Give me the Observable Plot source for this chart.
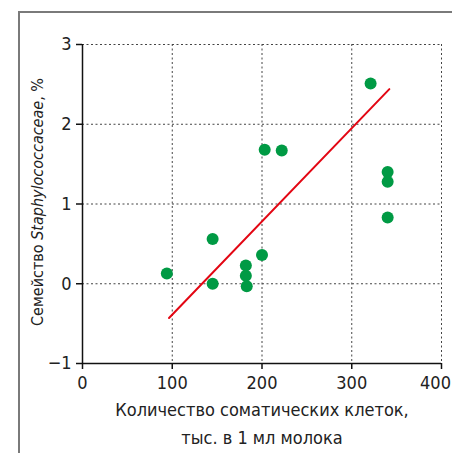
<!DOCTYPE html>
<html><head><meta charset="utf-8">
<script src="https://cdn.jsdelivr.net/npm/d3@7"></script>
<script src="https://cdn.jsdelivr.net/npm/@observablehq/plot@0.6"></script>
<style>
html,body{margin:0;padding:0;background:#fff;}
#wrap{position:relative;width:452px;height:453px;overflow:hidden;}
#frame{position:absolute;left:18px;top:11px;right:-5px;bottom:-5px;border-left:2px solid #7a7a7a;border-top:2px solid #7a7a7a;}
#wrap svg{position:absolute;left:0;top:0;}
</style></head>
<body><div id="wrap"><div id="frame"></div></div>
<script>
const cells = [94, 145, 145, 182, 182, 183, 200, 203, 222, 321, 340, 340, 340];
const staph = [0.13, 0.56, 0.00, 0.23, 0.10, -0.03, 0.36, 1.68, 1.67, 2.51, 1.40, 1.28, 0.83];
const fitX = [96.4, 341.9];
const fitY = [-0.43, 2.44];
const xTicks = [0, 100, 200, 300, 400];
const yTicks = [-1, 0, 1, 2, 3];
const xTitle1 = "Количество соматических клеток,";
const xTitle2 = "тыс. в 1 мл молока";

const pts = cells.map((c, i) => ({x: c, y: staph[i]}));
const fit = fitX.map((x, i) => ({x, y: fitY[i]}));
const font = "'DejaVu Sans Condensed', 'Liberation Sans Narrow', 'Open Sans', sans-serif";
const xMax = xTicks[xTicks.length - 1];

const plot = Plot.plot({
  width: 452, height: 453,
  marginLeft: 82, marginRight: 11, marginTop: 44, marginBottom: 90,
  style: {fontFamily: font, fontSize: "18px", color: "#222", background: "transparent", overflow: "visible"},
  x: {domain: [0, 400], ticks: xTicks, label: null},
  y: {domain: [-1, 3], ticks: yTicks, label: null},
  marks: [
    Plot.gridX(xTicks.filter(d => d > 0), {stroke: "#444", strokeOpacity: 1, strokeDasharray: "2,2.5", strokeWidth: 1}),
    Plot.gridY(yTicks.filter(d => d > -1), {stroke: "#444", strokeOpacity: 1, strokeDasharray: "2,2.5", strokeWidth: 1}),
    Plot.ruleX([0], {stroke: "#111", strokeWidth: 1.5}),
    Plot.ruleY([-1], {stroke: "#111", strokeWidth: 1.5}),
    Plot.axisX({ticks: xTicks, tickSize: 6, tickPadding: 7, fontSize: 18, tickFormat: d => d === xMax ? "" : String(d), stroke: "#111", strokeWidth: 1.5}),
    Plot.text([xMax], {x: d => d, frameAnchor: "bottom", lineAnchor: "top", dy: 13, dx: -6, fontSize: 18, fill: "#222", text: d => String(d)}),
    Plot.axisY({ticks: yTicks, tickSize: 6, tickPadding: 5, fontSize: 18, tickFormat: d => d < 0 ? "\u2212" + Math.abs(d) : String(d), stroke: "#111", strokeWidth: 1.5}),
    Plot.line(fit, {x: "x", y: "y", stroke: "#e30613", strokeWidth: 2}),
    Plot.dot(pts, {x: "x", y: "y", r: 6, fill: "#009a44", stroke: "none"}),
    Plot.text([xTitle1], {frameAnchor: "bottom", dx: 0, dy: 52, fontSize: 18, fill: "#222", text: d => d}),
    Plot.text([xTitle2], {frameAnchor: "bottom", dx: 0, dy: 80, fontSize: 18, fill: "#222", text: d => d})
  ]
});
const svg = plot;
const ns = "http://www.w3.org/2000/svg";
const t = document.createElementNS(ns, "text");
t.setAttribute("transform", "translate(37,202) rotate(-90)");
t.setAttribute("text-anchor", "middle");
t.setAttribute("dominant-baseline", "central");
t.setAttribute("font-size", "16");
t.setAttribute("font-family", font);
t.setAttribute("fill", "#222");
const a = document.createElementNS(ns, "tspan"); a.textContent = "Семейство ";
const b = document.createElementNS(ns, "tspan"); b.textContent = "Staphylococcaceae"; b.setAttribute("font-style", "italic");
const c = document.createElementNS(ns, "tspan"); c.textContent = ", %";
t.append(a, b, c);
svg.appendChild(t);
document.getElementById("wrap").appendChild(svg);
</script>
</body></html>
